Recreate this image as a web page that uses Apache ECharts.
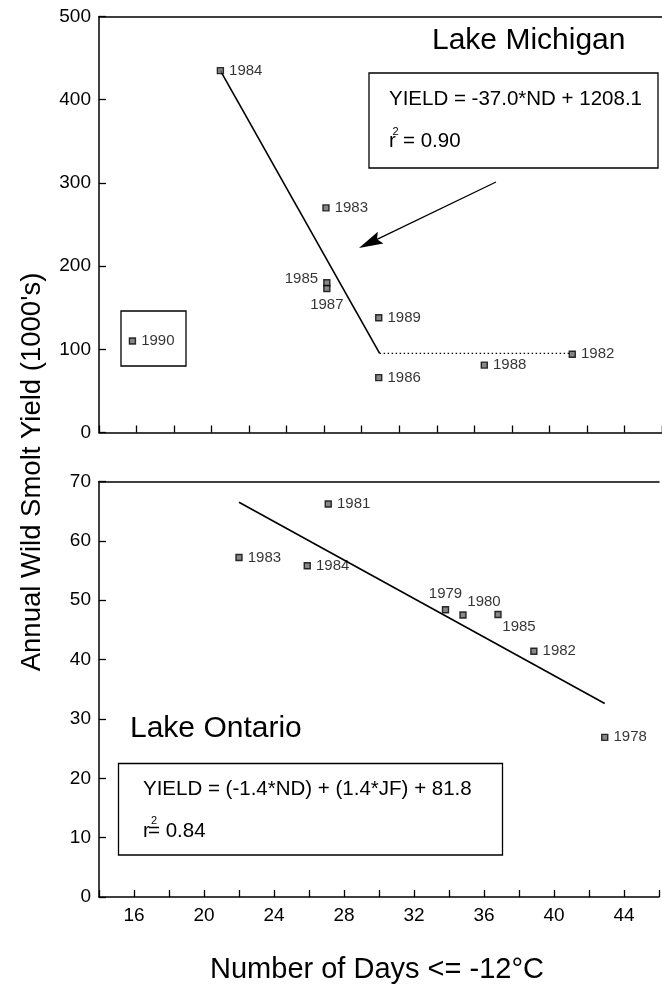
<!DOCTYPE html>
<html>
<head>
<meta charset="utf-8">
<script src="https://cdn.jsdelivr.net/npm/echarts@6/dist/echarts.min.js"></script>
<style>
html,body{margin:0;padding:0;background:#fff;}
#chart{width:662px;height:988px;}
</style>
</head>
<body>
<div id="chart"></div>
<script>
// ---------------- data ----------------
const michiganYears = ['1990', '1984', '1983', '1985', '1987', '1989', '1986', '1988', '1982'];
const michiganDays  = [15.9, 20.9, 26.9, 26.95, 26.95, 29.9, 29.9, 35.9, 40.9];
const michiganYield = [110, 435, 270, 180, 173, 138, 66, 81, 94];
const michiganFitDays  = [20.9, 29.95];
const michiganFitYield = [435, 95];
const michiganFlatDays  = [29.95, 40.9];
const michiganFlatYield = [95, 95];

const ontarioYears = ['1983', '1984', '1981', '1979', '1980', '1985', '1982', '1978'];
const ontarioDays  = [22.0, 25.9, 27.1, 33.8, 34.8, 36.8, 38.85, 42.9];
const ontarioYield = [57.2, 55.8, 66.2, 48.4, 47.5, 47.6, 41.4, 26.9];
const ontarioFitDays  = [22.0, 42.9];
const ontarioFitYield = [66.5, 32.6];

const xTickLabels = [16, 20, 24, 28, 32, 36, 40, 44];
const xMin = 14, xMax = 46;
const michiganYMax = 500, michiganYStep = 100;
const ontarioYMax = 70, ontarioYStep = 10;

// ---------------- styling ----------------
const FONT = '"Liberation Sans", Arial, Helvetica, sans-serif';
const labelPlacement = {
  michigan: {
    '1985': {position: 'left', distance: 5, offset: [0, -4]},
    '1987': {position: 'bottom', distance: 5}
  },
  ontario: {
    '1979': {position: 'top', distance: 5},
    '1980': {position: 'top', distance: 5, offset: [21, 3]},
    '1985': {position: 'bottom', distance: 2, offset: [21, -1]}
  }
};

function pts(xs, ys) { return xs.map((x, i) => [x, ys[i]]); }
function scatterData(years, xs, ys, placement) {
  return years.map((yr, i) => {
    const p = placement[yr] || {position: 'right', distance: 5};
    return {
      value: [xs[i], ys[i]],
      name: yr,
      label: Object.assign({show: true, formatter: yr}, p)
    };
  });
}

const markerStyle = {color: '#6a6a6a', borderColor: '#000', borderWidth: 1.4};
const labelStyle = {color: '#000', fontSize: 15, fontFamily: FONT};

const axisLineStyle = {show: true, lineStyle: {color: '#000', width: 1.5}};
const tickStyle = {show: true, inside: true, length: 7, lineStyle: {color: '#000', width: 1.3}};
const yLabelStyle = {color: '#000', fontSize: 19, fontFamily: FONT, margin: 8};

const chart = echarts.init(document.getElementById('chart'), null, {renderer: 'canvas'});

// arrow geometry (annotation, pixel space)
const arrowStart = [496, 182], arrowTip = [359, 248];
const adx = arrowTip[0] - arrowStart[0], ady = arrowTip[1] - arrowStart[1];
const alen = Math.sqrt(adx * adx + ady * ady);
const ux = adx / alen, uy = ady / alen, nx = -uy, ny = ux;
const headLen = 24, headHalf = 6.5;
const base = [arrowTip[0] - headLen * ux, arrowTip[1] - headLen * uy];
const notch = [arrowTip[0] - (headLen - 4) * ux, arrowTip[1] - (headLen - 4) * uy];

const txt = (x, y, text, size, extra) => ({
  type: 'text', x: x, y: y, z: 100,
  style: Object.assign({text: text, fill: '#000', font: size + 'px ' + FONT, textAlign: 'left', textVerticalAlign: 'middle'}, extra || {})
});
const box = (x, y, w, h) => ({
  type: 'rect', z: 90, shape: {x: x, y: y, width: w, height: h},
  style: {fill: 'rgba(0,0,0,0)', stroke: '#000', lineWidth: 1.3}
});

const yTitle = txt(32, 472, "Annual Wild Smolt Yield (1000's)", 27.5, {textAlign: 'center'});
yTitle.rotation = Math.PI / 2;

const option = {
  backgroundColor: '#fff',
  animation: false,
  grid: [
    {left: 99, top: 16.5, width: 572, height: 416},
    {left: 99, top: 481.5, width: 572, height: 415.5}
  ],
  xAxis: [
    {type: 'value', gridIndex: 0, min: xMin, max: xMax, interval: (xMax - xMin) / 15,
     axisLine: axisLineStyle, axisTick: tickStyle, axisLabel: {show: false}, splitLine: {show: false}},
    {type: 'value', gridIndex: 0, position: 'top', min: xMin, max: xMax,
     axisLine: axisLineStyle, axisTick: {show: false}, axisLabel: {show: false}, splitLine: {show: false}},
    {type: 'value', gridIndex: 1, min: xMin, max: xMax, interval: 2,
     axisLine: axisLineStyle, axisTick: tickStyle,
     axisLabel: {color: '#000', fontSize: 19, fontFamily: FONT, margin: 9,
       formatter: v => (xTickLabels.indexOf(Math.round(v)) >= 0 && Math.abs(v - Math.round(v)) < 1e-6) ? String(Math.round(v)) : ''},
     splitLine: {show: false}},
    {type: 'value', gridIndex: 1, position: 'top', min: xMin, max: xMax,
     axisLine: axisLineStyle, axisTick: {show: false}, axisLabel: {show: false}, splitLine: {show: false}}
  ],
  yAxis: [
    {type: 'value', gridIndex: 0, min: 0, max: michiganYMax, interval: michiganYStep,
     axisLine: axisLineStyle, axisTick: tickStyle, axisLabel: yLabelStyle, splitLine: {show: false}},
    {type: 'value', gridIndex: 1, min: 0, max: ontarioYMax, interval: ontarioYStep,
     axisLine: axisLineStyle, axisTick: tickStyle, axisLabel: yLabelStyle, splitLine: {show: false}}
  ],
  series: [
    {type: 'line', xAxisIndex: 0, yAxisIndex: 0, data: pts(michiganFitDays, michiganFitYield),
     symbol: 'none', lineStyle: {color: '#000', width: 1.6}, z: 3},
    {type: 'line', xAxisIndex: 0, yAxisIndex: 0, data: pts(michiganFlatDays, michiganFlatYield),
     symbol: 'none', lineStyle: {color: '#000', width: 1.3, type: [1.5, 2.5]}, z: 3},
    {type: 'scatter', xAxisIndex: 0, yAxisIndex: 0,
     data: scatterData(michiganYears, michiganDays, michiganYield, labelPlacement.michigan),
     symbol: 'rect', symbolSize: 6, itemStyle: markerStyle, label: labelStyle, z: 5},
    {type: 'line', xAxisIndex: 2, yAxisIndex: 1, data: pts(ontarioFitDays, ontarioFitYield),
     symbol: 'none', lineStyle: {color: '#000', width: 1.6}, z: 3},
    {type: 'scatter', xAxisIndex: 2, yAxisIndex: 1,
     data: scatterData(ontarioYears, ontarioDays, ontarioYield, labelPlacement.ontario),
     symbol: 'rect', symbolSize: 6, itemStyle: markerStyle, label: labelStyle, z: 5}
  ],
  graphic: [
    // titles
    txt(432, 41, 'Lake Michigan', 30),
    txt(130, 729, 'Lake Ontario', 30),
    // Michigan equation box
    box(369, 73, 289, 95),
    txt(389, 99.5, 'YIELD = -37.0*ND + 1208.1', 20.5),
    txt(389, 141, 'r', 20.5),
    txt(392.5, 132, '2', 11),
    txt(403, 141, '= 0.90', 20.5),
    // 1990 box
    box(121, 311, 65, 55),
    // Ontario equation box
    box(118.5, 763.5, 384, 91.5),
    txt(143, 789.5, 'YIELD = (-1.4*ND) + (1.4*JF) + 81.8', 20.5),
    txt(143, 831, 'r', 20.5),
    txt(151, 821, '2', 11),
    txt(148, 831, '= 0.84', 20.5),
    // arrow
    {type: 'line', z: 95, shape: {x1: arrowStart[0], y1: arrowStart[1], x2: notch[0], y2: notch[1]},
     style: {stroke: '#000', lineWidth: 1.3}},
    {type: 'polygon', z: 95, shape: {points: [
      arrowTip,
      [base[0] + headHalf * nx, base[1] + headHalf * ny],
      notch,
      [base[0] - headHalf * nx, base[1] - headHalf * ny]
    ]}, style: {fill: '#000'}},
    // axis titles
    yTitle,
    txt(377, 970, 'Number of Days <= -12°C', 29, {textAlign: 'center'})
  ]
};

chart.setOption(option);
</script>
</body>
</html>
